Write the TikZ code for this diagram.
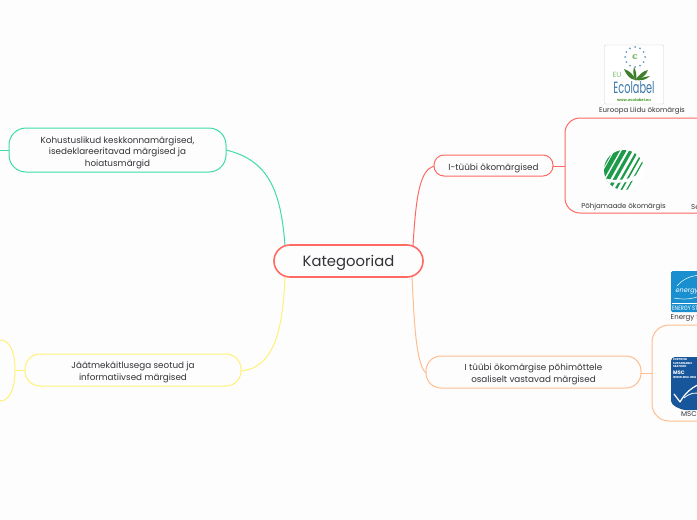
\documentclass[tikz,border=0pt]{standalone}
\usepackage{fontspec}
\setmainfont{Poppins}
\definecolor{bgc}{HTML}{FDFDFD}
\definecolor{redc}{HTML}{FF6B63}
\definecolor{greenc}{HTML}{3FDBA8}
\definecolor{yelc}{HTML}{FFF176}
\definecolor{orc}{HTML}{FFBE8F}
\definecolor{txt}{HTML}{333338}
\definecolor{swan}{HTML}{1E9A4B}
\definecolor{ecob}{HTML}{3C78A8}
\definecolor{ecog}{HTML}{4E9E34}
\definecolor{esb}{HTML}{1A8FD0}
\definecolor{mscb}{HTML}{17569B}
\newcommand{\upl}{\rule{0pt}{11.5pt}}
\newcommand{\upk}{\rule{0pt}{15pt}}
\tikzset{
  x=1pt,y=-1pt,
  topic/.style={draw,line width=1pt,rounded corners=#1,fill=bgc,text=txt,align=center,inner sep=0pt,anchor=center},
  link/.style={line width=1pt},
  small/.style={font=\fontsize{7}{9}\selectfont,text=txt,inner sep=0pt},
  label/.style={font=\fontsize{8.8}{14}\selectfont},
}
\begin{document}
\begin{tikzpicture}
\useasboundingbox (0,0) rectangle (697,520);
\clip (0,0) rectangle (697,520);
\fill[bgc] (0,0) rectangle (697,520);

% attachment points
\coordinate (kg) at (285,246);
\coordinate (kr) at (413,246);
\coordinate (ky) at (285,276);
\coordinate (ko) at (412,276);
\coordinate (gr) at (226,150);
\coordinate (gl) at (9,150);
\coordinate (gfree) at (0,150);
\coordinate (rl) at (434,166);
\coordinate (rr) at (553,166);
\coordinate (rc) at (565,166);
\coordinate (yr) at (241,371);
\coordinate (yl) at (25,370);
\coordinate (yc) at (15,370);
\coordinate (ol) at (426,373);
\coordinate (or) at (641,373);
\coordinate (oc) at (652,373);

% connectors
\draw[link,greenc] (kg) .. controls (281,190) and (268,160) .. (gr);
\draw[link,greenc] (gl) -- (gfree);
\draw[link,redc] (kr) .. controls (416,195) and (420,170) .. (rl);
\draw[link,redc] (rr) -- (rc);
\draw[link,yelc] (ky) .. controls (283,335) and (272,368) .. (yr);
\draw[link,yelc] (yl) -- (yc);
\draw[link,orc] (ko) .. controls (414,320) and (416,365) .. (ol);
\draw[link,orc] (or) -- (oc);

% sub-containers
\draw[link,redc,rounded corners=15pt,fill=bgc] (720,118) -- (565,118) -- (565,213) -- (720,213);
\draw[link,orc,rounded corners=17pt,fill=bgc] (720,325) -- (652,325) -- (652,421) -- (720,421);
\draw[link,yelc,fill=bgc] (-30,340) -- (0,340) .. controls (10,340) and (15,352) .. (15,370) .. controls (15,388) and (10,401) .. (0,401) -- (-30,401);

% topics
\node[topic=16pt,draw=redc,line width=1.6pt,minimum width=149pt,minimum height=32pt,font=\fontsize{14.8}{16}\selectfont] (kat) at (348.5,261) {\upk Kategooriad};
\node[topic=17pt,draw=greenc,minimum width=217pt,minimum height=44pt,label] (green) at (117.5,150) {\upl Kohustuslikud keskkonnamärgised,\\[-2.5pt]isedeklareeritavad märgised ja\\[-2.5pt]hoiatusmärgid};
\node[topic=10pt,draw=redc,minimum width=119pt,minimum height=21pt,label] (red) at (493.5,165.5) {\upl I-tüübi ökomärgised};
\node[topic=15pt,draw=yelc,minimum width=216pt,minimum height=32pt,label] (yellow) at (133,370) {\upl Jäätmekäitlusega seotud ja\\[-2pt]informatiivsed märgised};
\node[topic=15pt,draw=orc,minimum width=215pt,minimum height=32pt,label] (orange) at (533.5,372) {\upl I tüübi ökomärgise põhimõttele\\[-2pt]osaliselt vastavad märgised};

% Ecolabel logo
\node[draw=black!18,fill=white,rounded corners=1pt,minimum width=59pt,minimum height=59pt,inner sep=0pt] (eco) at (634,74.5) {};
\foreach \a in {0,30,...,330}
  \fill[ecob!75] (635,57) ++(\a:10) circle (1);
\node[font=\fontsize{7}{7}\selectfont,text=ecog,inner sep=0pt] (euro) at (635,57) {€};
\fill[ecog!80!black] (635,80) .. controls (633,75) and (633,71) .. (634,67) .. controls (636,71) and (637,75) .. (636,80) -- cycle;
\fill[ecog!80!black] (635,80) .. controls (630,79) and (627,76) .. (624,69) .. controls (630,71) and (634,75) .. cycle;
\fill[ecog!80!black] (635,80) .. controls (640,74) and (643,71) .. (648,70) .. controls (646,76) and (641,79) .. cycle;
\fill[ecog!80!black] (635,80) .. controls (640,78) and (644,77) .. (650,76) .. controls (646,80) and (641,81) .. cycle;
\node[font=\fontsize{7.5}{8}\selectfont,text=ecog!70,inner sep=0pt] (eulab) at (617,75) {EU};
\node[font=\fontsize{13.5}{14}\selectfont,text=ecob,inner sep=0pt,xscale=.72,yscale=1.2] (ecot) at (634,87.5) {Ecolabel};
\node[font=\bfseries\fontsize{3.8}{4}\selectfont,text=ecog,inner sep=0pt] (ecow) at (634,100) {www.ecolabel.eu};
\node[small] (t1) at (642,111) {Euroopa Liidu ökomärgis};

% Nordic swan
\begin{scope}
\clip (624,170) circle (20);
\fill[white] (604,150) rectangle (644,190);
\foreach \d/\w in {-20.4/5,-13.6/5,-6.8/5,0/5,6.8/4.6,13.6/4,20.4/3.2,27/2.2,33/1.6,38.5/1.2}
  \draw[swan,line width=\w pt] (612+\d,148) -- (586+\d,194);
\fill[white] (604,178) .. controls (615,181.5) and (632,181) .. (644,170) -- (644,175) .. controls (632,184) and (615,184) .. (604,181) -- cycle;
\end{scope}
\node[small] (t2) at (623.5,207) {Põhjamaade ökomärgis};
\node[small,anchor=west] (t3) at (691,207) {Se};

% Energy Star
\fill[esb,rounded corners=1.5pt] (671,271) rectangle (720,312);
\fill[white] (671.5,303) rectangle (720,303.7);
\node[font=\fontsize{6.3}{6}\selectfont,text=white,inner sep=0pt,anchor=west,xscale=.8] (es1) at (672,307.8) {ENERGY STAR};
\node[font=\itshape\fontsize{6.5}{7}\selectfont,text=white,inner sep=0pt,anchor=west] (es2) at (675.5,291.5) {energy};
\draw[white,line width=.5pt] (677,286) .. controls (683,279) and (690,276) .. (700,275);
\draw[white,line width=.5pt] (674,298) .. controls (684,300) and (692,299) .. (700,296);
\node[small,anchor=west] (t4) at (670.5,318) {Energy Star};

% MSC
\fill[mscb,rounded corners=4pt] (671,357) -- (720,357) -- (720,400) .. controls (712,408) and (700,410) .. (690,410) .. controls (680,410) and (671,405) .. (671,397) -- cycle;
\node[font=\bfseries\fontsize{2.8}{3.4}\selectfont,text=white,inner sep=0pt,align=left,anchor=north west] (msc1) at (673,358.5) {CERTIFIED\\SUSTAINABLE\\SEAFOOD};
\node[font=\bfseries\fontsize{5}{5}\selectfont,text=white,inner sep=0pt,anchor=west] (msc2) at (673,373) {MSC};
\node[font=\bfseries\fontsize{2.8}{3}\selectfont,text=white,inner sep=0pt,anchor=west] (msc3) at (673,378) {WWW.MSC.ORG};
\draw[white,line width=1.2pt,line join=round] (674,394) -- (680,402) .. controls (684,395) and (690,388) .. (700,384);
\draw[white,line width=.8pt] (684,398) .. controls (690,393) and (695,392) .. (700,394);
\node[small,anchor=west] (t5) at (681,414) {MSC};
\end{tikzpicture}
\end{document}
